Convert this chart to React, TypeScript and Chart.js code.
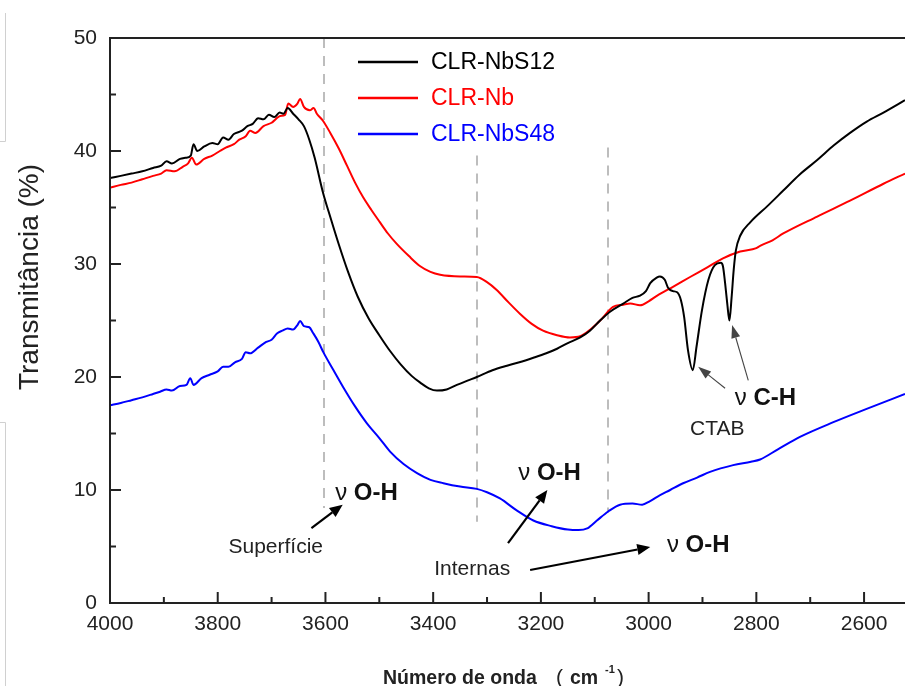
import React, { useEffect, useRef } from "react";
import { Chart, registerables } from "chart.js";

Chart.register(...registerables);

const FONT = '"Liberation Sans", Arial, Helvetica, sans-serif';

// ---- axes ----
const xTicks = [4000, 3800, 3600, 3400, 3200, 3000, 2800, 2600];
const xMinorTicks = [3900, 3700, 3500, 3300, 3100, 2900, 2700];
const yTicks = [0, 10, 20, 30, 40, 50];
const yMinorTicks = [5, 15, 25, 35, 45];
const xMinVal = 2524;
const xMaxVal = 4000;

// ---- series ----
const seriesNames = ["CLR-NbS12", "CLR-Nb", "CLR-NbS48"];
const seriesColors = ["#000000", "#ff0000", "#0000ff"];

const nbs12Wn = [4000, 3980, 3960, 3940, 3920, 3905, 3895, 3885, 3870, 3860, 3850, 3845, 3838, 3825, 3810, 3800, 3790, 3780, 3770, 3755, 3745, 3735, 3725, 3715, 3705, 3695, 3685, 3678, 3670, 3660, 3650, 3640, 3630, 3620, 3605, 3590, 3575, 3558, 3540, 3520, 3500, 3480, 3460, 3440, 3424, 3408, 3393, 3375, 3356, 3335, 3319, 3290, 3263, 3240, 3214, 3190, 3170, 3150, 3127, 3109, 3090, 3071, 3047, 3030, 3016, 3005, 2997, 2985, 2979, 2970, 2964, 2955, 2947, 2940, 2934, 2927, 2918, 2911, 2901, 2889, 2877, 2866, 2862, 2858, 2854, 2850, 2846, 2842, 2838, 2830, 2811, 2780, 2750, 2720, 2687, 2656, 2626, 2595, 2564, 2524];
const nbs12T = [37.6, 37.8, 38.0, 38.2, 38.5, 38.7, 39.1, 38.9, 39.3, 39.4, 39.6, 40.6, 40.0, 40.4, 40.7, 40.6, 41.2, 41.0, 41.5, 41.8, 42.2, 42.4, 42.9, 42.8, 43.2, 43.0, 43.4, 43.3, 43.8, 43.3, 42.8, 42.2, 41.0, 39.4, 36.4, 34.0, 31.7, 29.3, 27.1, 25.2, 23.7, 22.3, 21.1, 20.1, 19.5, 19.0, 18.8, 18.9, 19.3, 19.7, 20.0, 20.6, 21.0, 21.3, 21.7, 22.1, 22.5, 23.0, 23.5, 24.1, 25.0, 25.8, 26.5, 27.0, 27.2, 27.6, 28.3, 28.8, 28.9, 28.6, 27.9, 27.6, 27.5, 26.8, 25.3, 22.4, 20.6, 22.7, 25.9, 28.6, 29.9, 30.1, 29.8, 28.3, 26.5, 25.0, 27.0, 29.5, 31.2, 32.5, 33.7, 35.1, 36.5, 37.9, 39.2, 40.5, 41.6, 42.6, 43.4, 44.5];

const nbWn = [4000, 3980, 3960, 3940, 3920, 3905, 3895, 3880, 3865, 3855, 3848, 3840, 3825, 3810, 3796, 3785, 3770, 3760, 3748, 3740, 3730, 3715, 3700, 3684, 3675, 3669, 3660, 3652, 3647, 3640, 3629, 3622, 3616, 3605, 3591, 3575, 3560, 3545, 3530, 3515, 3499, 3484, 3468, 3445, 3424, 3405, 3387, 3350, 3319, 3300, 3282, 3260, 3239, 3217, 3196, 3170, 3146, 3127, 3108, 3090, 3066, 3047, 3034, 3016, 3000, 2984, 2954, 2923, 2891, 2862, 2830, 2800, 2793, 2770, 2750, 2687, 2626, 2564, 2524];
const nbT = [36.75, 37.0, 37.2, 37.5, 37.8, 38.0, 38.3, 38.2, 38.6, 38.9, 39.4, 38.8, 39.3, 39.6, 40.0, 40.3, 40.6, 41.0, 41.3, 41.8, 41.6, 42.2, 42.5, 43.1, 43.2, 44.2, 43.9, 44.2, 44.6, 43.9, 43.6, 43.8, 43.3, 42.7, 41.6, 40.2, 38.7, 37.2, 35.9, 34.8, 33.7, 32.7, 31.8, 30.7, 29.8, 29.3, 29.05, 28.9, 28.85, 28.4, 27.7, 26.6, 25.6, 24.7, 24.1, 23.7, 23.5, 23.6, 24.2, 25.0, 26.2, 26.4, 26.5, 26.35, 26.7, 27.2, 28.0, 28.85, 29.7, 30.5, 31.1, 31.4, 31.6, 32.1, 32.7, 34.2, 35.6, 37.1, 38.0];

const nbs48Wn = [4000, 3980, 3960, 3940, 3920, 3907, 3895, 3885, 3870, 3858, 3851, 3845, 3830, 3815, 3800, 3790, 3780, 3768, 3755, 3748, 3740, 3725, 3710, 3700, 3690, 3680, 3670, 3660, 3652, 3647, 3640, 3630, 3623, 3613, 3604, 3585, 3567, 3545, 3523, 3500, 3480, 3455, 3430, 3405, 3381, 3350, 3319, 3300, 3276, 3245, 3214, 3180, 3150, 3130, 3114, 3096, 3075, 3053, 3030, 3012, 2998, 2984, 2960, 2936, 2910, 2886, 2843, 2810, 2793, 2760, 2719, 2657, 2594, 2524];
const nbs48T = [17.5, 17.7, 17.95, 18.2, 18.5, 18.7, 18.9, 18.8, 19.2, 19.3, 19.9, 19.3, 19.9, 20.2, 20.5, 20.9, 20.9, 21.3, 21.6, 22.2, 22.1, 22.6, 23.1, 23.3, 23.85, 24.1, 24.3, 24.2, 24.6, 24.96, 24.5, 24.4, 23.9, 23.1, 22.2, 20.6, 19.1, 17.4, 15.9, 14.6, 13.4, 12.3, 11.5, 10.9, 10.6, 10.3, 10.1, 9.8, 9.25, 8.2, 7.3, 6.8, 6.5, 6.45, 6.6, 7.3, 8.1, 8.7, 8.8, 8.7, 9.0, 9.4, 10.0, 10.6, 11.1, 11.6, 12.2, 12.5, 12.7, 13.6, 14.7, 16.0, 17.2, 18.5];

// ---- reference lines (dashed) ----
const dashWn = [3603, 3318, 3075];
const dashTop = [50, 39.6, 40.3];
const dashBottom = [8.4, 7.2, 8.0];

// ---- annotations (data coordinates) ----
const ohLabelWn = [3582, 3242, 2966];
const ohLabelT = [9.1, 10.9, 4.5];
const chLabelWn = 2840;
const chLabelT = 17.5;
const noteTexts = ["Superfície", "Internas", "CTAB"];
const noteWn = [3780, 3398, 2923];
const noteT = [4.4, 2.5, 14.85];
// bold arrows: [fromWn, fromT, toWn, toT]
const boldArrows = [
  [3626, 6.63, 3568, 8.7],
  [3261, 5.3, 3188, 10.0],
  [3220, 2.92, 2997, 4.95],
];
const thinArrows = [
  [2858, 19.0, 2908, 20.9],
  [2815, 19.7, 2845, 24.6],
];

function toPts(xs: number[], ys: number[]) {
  return xs.map((x, i) => ({ x, y: ys[i] }));
}

function drawArrow(ctx: CanvasRenderingContext2D, x1: number, y1: number, x2: number, y2: number, lw: number, headLen: number, headHalf: number, color: string) {
  const ang = Math.atan2(y2 - y1, x2 - x1);
  const bx = x2 - headLen * Math.cos(ang);
  const by = y2 - headLen * Math.sin(ang);
  ctx.save();
  ctx.strokeStyle = color;
  ctx.fillStyle = color;
  ctx.lineWidth = lw;
  ctx.beginPath();
  ctx.moveTo(x1, y1);
  ctx.lineTo(bx, by);
  ctx.stroke();
  ctx.beginPath();
  ctx.moveTo(x2, y2);
  ctx.lineTo(bx + headHalf * Math.sin(ang), by - headHalf * Math.cos(ang));
  ctx.lineTo(bx - headHalf * Math.sin(ang), by + headHalf * Math.cos(ang));
  ctx.closePath();
  ctx.fill();
  ctx.restore();
}

function drawNuLabel(ctx: CanvasRenderingContext2D, x: number, y: number, rest: string) {
  ctx.save();
  ctx.fillStyle = "#111";
  ctx.textBaseline = "alphabetic";
  ctx.textAlign = "left";
  ctx.font = `24px ${FONT}`;
  ctx.fillText("ν", x, y);
  const w = ctx.measureText("ν ").width;
  ctx.font = `bold 24px ${FONT}`;
  ctx.fillText(rest, x + w, y);
  ctx.restore();
}

const decorPlugin = {
  id: "decor",
  beforeDatasetsDraw(chart: any) {
    const { ctx } = chart;
    const xs = chart.scales.x;
    const ys = chart.scales.y;
    ctx.save();
    ctx.strokeStyle = "#bdbdbd";
    ctx.lineWidth = 2;
    ctx.setLineDash([10, 8]);
    dashWn.forEach((w, i) => {
      const px = Math.round(xs.getPixelForValue(w));
      ctx.beginPath();
      ctx.moveTo(px, ys.getPixelForValue(dashTop[i]));
      ctx.lineTo(px, ys.getPixelForValue(dashBottom[i]));
      ctx.stroke();
    });
    ctx.restore();
  },
  afterDatasetsDraw(chart: any) {
    const { ctx, chartArea } = chart;
    const { left, right, top, bottom } = chartArea;
    const xs = chart.scales.x;
    const ys = chart.scales.y;
    ctx.save();
    // frame
    ctx.strokeStyle = "#222";
    ctx.lineWidth = 2;
    ctx.beginPath();
    ctx.moveTo(right + 2, top);
    ctx.lineTo(left, top);
    ctx.lineTo(left, bottom);
    ctx.lineTo(right + 2, bottom);
    ctx.stroke();
    // ticks (inward)
    ctx.lineWidth = 2;
    yTicks.forEach((v) => {
      const py = ys.getPixelForValue(v);
      ctx.beginPath();
      ctx.moveTo(left, py);
      ctx.lineTo(left + 11, py);
      ctx.stroke();
    });
    yMinorTicks.forEach((v) => {
      const py = ys.getPixelForValue(v);
      ctx.beginPath();
      ctx.moveTo(left, py);
      ctx.lineTo(left + 6, py);
      ctx.stroke();
    });
    xTicks.forEach((v) => {
      const px = xs.getPixelForValue(v);
      ctx.beginPath();
      ctx.moveTo(px, bottom);
      ctx.lineTo(px, bottom - 11);
      ctx.stroke();
    });
    xMinorTicks.forEach((v) => {
      const px = xs.getPixelForValue(v);
      ctx.beginPath();
      ctx.moveTo(px, bottom);
      ctx.lineTo(px, bottom - 6);
      ctx.stroke();
    });

    // legend
    ctx.font = `23px ${FONT}`;
    ctx.textBaseline = "middle";
    ctx.textAlign = "left";
    seriesNames.forEach((name, i) => {
      const ly = top + 24 + i * 36;
      ctx.strokeStyle = seriesColors[i];
      ctx.lineWidth = 2.5;
      ctx.beginPath();
      ctx.moveTo(left + 248, ly);
      ctx.lineTo(left + 308, ly);
      ctx.stroke();
      ctx.fillStyle = seriesColors[i];
      ctx.fillText(name, left + 321, ly + 1);
    });

    // annotations
    ohLabelWn.forEach((w, i) => {
      drawNuLabel(ctx, xs.getPixelForValue(w), ys.getPixelForValue(ohLabelT[i]), "O-H");
    });
    drawNuLabel(ctx, xs.getPixelForValue(chLabelWn), ys.getPixelForValue(chLabelT), "C-H");
    ctx.font = `21px ${FONT}`;
    ctx.fillStyle = "#222";
    ctx.textBaseline = "alphabetic";
    noteTexts.forEach((t, i) => {
      ctx.fillText(t, xs.getPixelForValue(noteWn[i]), ys.getPixelForValue(noteT[i]));
    });
    boldArrows.forEach((a) => {
      drawArrow(ctx, xs.getPixelForValue(a[0]), ys.getPixelForValue(a[1]), xs.getPixelForValue(a[2]), ys.getPixelForValue(a[3]), 2.2, 13, 5.5, "#000");
    });
    thinArrows.forEach((a) => {
      drawArrow(ctx, xs.getPixelForValue(a[0]), ys.getPixelForValue(a[1]), xs.getPixelForValue(a[2]), ys.getPixelForValue(a[3]), 1.1, 13, 4.5, "#444");
    });

    // axis titles
    ctx.fillStyle = "#222";
    ctx.save();
    ctx.translate(38, 277);
    ctx.rotate(-Math.PI / 2);
    ctx.font = `28px ${FONT}`;
    ctx.textAlign = "center";
    ctx.textBaseline = "alphabetic";
    ctx.fillText("Transmitância (%)", 0, 0);
    ctx.restore();

    ctx.textAlign = "left";
    ctx.textBaseline = "alphabetic";
    ctx.font = `bold 19.5px ${FONT}`;
    ctx.fillText("Número de onda", 383, 684);
    ctx.font = `21px ${FONT}`;
    ctx.fillText("(", 556, 684);
    ctx.font = `bold 19.5px ${FONT}`;
    ctx.fillText("cm", 570, 684);
    ctx.font = `bold 11px ${FONT}`;
    ctx.fillText("-1", 605, 673);
    ctx.font = `21px ${FONT}`;
    ctx.fillText(")", 617, 684);

    // faint page artefacts at left edge
    ctx.strokeStyle = "#d0d0d0";
    ctx.lineWidth = 1;
    ctx.beginPath();
    ctx.moveTo(5.5, 13);
    ctx.lineTo(5.5, 141.5);
    ctx.lineTo(0, 141.5);
    ctx.moveTo(0, 422.5);
    ctx.lineTo(5.5, 422.5);
    ctx.lineTo(5.5, 686);
    ctx.stroke();
    ctx.restore();
  },
};

export default function App() {
  const canvasRef = useRef<HTMLCanvasElement | null>(null);

  useEffect(() => {
    document.body.style.margin = "0";
    document.body.style.background = "#ffffff";
    const canvas = canvasRef.current;
    if (!canvas) return;
    const mk = (label: string, color: string, pts: any[]) => ({
      label,
      data: pts,
      borderColor: color,
      backgroundColor: color,
      borderWidth: 2,
      pointRadius: 0,
      showLine: true,
      fill: false,
      cubicInterpolationMode: "monotone" as const,
    });
    const chart = new Chart(canvas, {
      type: "scatter",
      data: {
        datasets: [
          mk(seriesNames[0], seriesColors[0], toPts(nbs12Wn, nbs12T)),
          mk(seriesNames[1], seriesColors[1], toPts(nbWn, nbT)),
          mk(seriesNames[2], seriesColors[2], toPts(nbs48Wn, nbs48T)),
        ],
      },
      options: {
        animation: false,
        responsive: false,
        maintainAspectRatio: false,
        devicePixelRatio: 1,
        layout: { padding: { top: 38, right: 0, left: 0, bottom: 0 } },
        plugins: {
          legend: { display: false },
          tooltip: { enabled: false },
          title: { display: false },
        },
        scales: {
          x: {
            type: "linear",
            reverse: true,
            min: xMinVal,
            max: xMaxVal,
            grid: { display: false, drawTicks: false },
            border: { display: false },
            afterBuildTicks: (scale: any) => {
              scale.ticks = xTicks.map((v) => ({ value: v }));
            },
            afterFit: (scale: any) => {
              scale.height = 83;
            },
            ticks: {
              color: "#222",
              padding: 9,
              maxRotation: 0,
              autoSkip: false,
              font: { family: FONT, size: 21 },
              callback: (v: any) => String(v),
            },
          },
          y: {
            type: "linear",
            min: 0,
            max: 50,
            grid: { display: false, drawTicks: false },
            border: { display: false },
            afterBuildTicks: (scale: any) => {
              scale.ticks = yTicks.map((v) => ({ value: v }));
            },
            afterFit: (scale: any) => {
              scale.width = 110;
            },
            ticks: {
              color: "#222",
              padding: 13,
              font: { family: FONT, size: 21 },
              callback: (v: any) => String(v),
            },
          },
        },
      },
      plugins: [decorPlugin],
    });
    return () => chart.destroy();
  }, []);

  return (
    <div style={{ position: "fixed", left: 0, top: 0, width: 905, height: 686, background: "#fff" }}>
      <canvas ref={canvasRef} width={905} height={686} style={{ width: 905, height: 686, display: "block" }} />
    </div>
  );
}
